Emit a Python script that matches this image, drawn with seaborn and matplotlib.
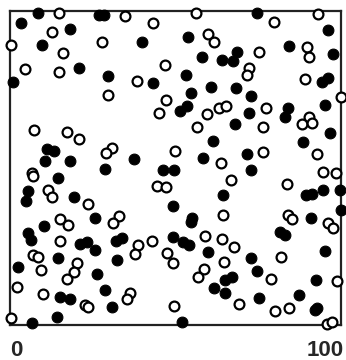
import matplotlib
matplotlib.use("Agg")
import matplotlib.pyplot as plt
import seaborn as sns
import pandas as pd

filled_x = [8.5, 26.9, 28.4, 3.3, 18.0, 9.6, 20.9, 1.0, 29.5, 40.0, 53.9, 58.1, 63.9, 67.3, 53.2, 43.1,
            54.6, 60.7, 51.4, 53.6, 74.7, 96.2, 84.4, 97.7, 68.7, 68.2, 72.7, 94.2, 96.2, 95.2, 72.3, 84.1,
            83.1, 11.1, 13.3, 10.6, 18.1, 28.7, 14.4, 5.5, 4.8, 19.3, 25.7, 61.4, 37.5, 58.2, 46.1, 49.5,
            49.3, 64.4, 54.9, 68.0, 96.7, 88.6, 71.7, 72.7, 89.4, 91.1, 94.5, 99.7, 100.0, 90.8, 10.4, 5.5,
            6.3, 21.1, 23.2, 25.7, 32.0, 33.7, 14.6, 2.5, 26.2, 32.3, 28.7, 15.1, 18.1, 30.8, 14.1, 6.7,
            54.6, 49.2, 52.4, 54.2, 59.7, 61.6, 65.0, 65.0, 51.9, 81.6, 83.1, 95.2, 72.7, 74.7, 67.0, 92.4,
            87.4, 75.3, 92.1, 92.7]
filled_y = [99.3, 98.7, 98.7, 96.3, 94.3, 89.2, 81.8, 77.3, 79.4, 90.0, 91.8, 85.5, 84.4, 84.1, 79.6, 77.0,
            73.8, 75.7, 68.2, 69.8, 99.3, 94.0, 88.9, 86.2, 87.0, 75.4, 72.9, 77.5, 78.6, 70.1, 67.4, 69.0,
            66.3, 56.0, 55.5, 52.2, 52.2, 49.6, 46.9, 42.7, 39.6, 40.9, 34.0, 58.7, 52.8, 53.1, 49.4, 49.4,
            38.0, 41.4, 34.0, 63.9, 61.2, 58.2, 54.4, 49.4, 41.4, 41.7, 43.0, 43.0, 36.6, 34.0, 31.5, 29.4,
            27.1, 25.8, 26.5, 23.9, 26.8, 27.6, 21.2, 18.6, 16.2, 20.7, 11.1, 8.8, 8.2, 5.8, 2.6, 0.5,
            32.9, 27.9, 26.5, 25.5, 23.3, 11.9, 14.2, 10.3, 1.1, 29.7, 28.7, 23.7, 21.2, 17.3, 15.2, 14.3,
            9.6, 8.5, 4.8, 5.4]

open_x = [14.9, 12.6, 0.2, 27.7, 16.1, 4.5, 14.8, 29.7, 34.7, 56.1, 43.3, 59.9, 61.6, 46.8, 38.3, 47.1,
          45.0, 59.6, 63.1, 65.3, 93.0, 79.8, 89.8, 90.4, 75.3, 72.3, 71.7, 89.1, 100.0, 77.3, 90.3, 7.3,
          17.1, 20.9, 30.7, 29.0, 6.6, 6.9, 11.6, 12.6, 23.7, 15.1, 32.9, 56.6, 49.8, 63.7, 44.3, 47.1,
          66.8, 64.4, 76.5, 88.1, 91.1, 76.5, 92.8, 94.5, 98.4, 83.6, 84.1, 85.2, 96.2, 97.5, 17.6, 31.2,
          15.1, 6.9, 8.5, 9.3, 20.3, 19.3, 17.3, 2.2, 10.1, 22.7, 23.7, 0.2, 38.8, 37.8, 42.8, 47.5,
          49.2, 58.9, 64.1, 64.7, 58.7, 56.7, 36.3, 35.3, 49.6, 67.7, 81.8, 78.8, 98.7, 69.2, 80.1, 84.3,
          95.9, 97.2]
open_y = [99.3, 93.2, 89.2, 90.2, 86.5, 81.4, 80.6, 73.2, 98.5, 99.3, 96.1, 92.7, 90.0, 82.8, 77.8, 71.7,
          67.6, 67.1, 69.0, 69.7, 99.0, 96.6, 88.6, 85.3, 86.8, 81.8, 79.6, 78.3, 72.7, 69.2, 66.3, 62.1,
          61.6, 59.1, 56.3, 54.7, 48.5, 47.5, 43.0, 40.9, 38.4, 33.8, 34.7, 63.2, 55.5, 51.7, 44.3, 43.9,
          46.3, 35.0, 63.2, 64.0, 64.2, 55.2, 54.4, 48.8, 48.5, 44.9, 35.0, 33.8, 32.6, 30.8, 31.8, 32.4,
          26.8, 22.3, 21.6, 17.5, 19.7, 17.0, 14.6, 12.0, 9.8, 6.4, 5.6, 2.1, 25.5, 22.5, 26.8, 23.0,
          19.7, 28.4, 27.3, 20.2, 17.8, 15.4, 10.1, 8.2, 6.1, 24.7, 21.8, 14.6, 14.0, 6.7, 4.6, 5.5,
          0.2, 1.1]

axis_labels = ["0", "100"]

df_filled = pd.DataFrame({"x": filled_x, "y": filled_y})
df_open = pd.DataFrame({"x": open_x, "y": open_y})

sns.set_style("white")
fig = plt.figure(figsize=(3.46, 3.60), dpi=100)
ax = fig.add_axes([10/346, 35/360, 331/346, 314/360])

sns.scatterplot(data=df_filled, x="x", y="y", ax=ax, s=60, color="black",
                edgecolor="black", linewidth=0.8, clip_on=False, zorder=3)
sns.scatterplot(data=df_open, x="x", y="y", ax=ax, s=50, facecolor="white",
                edgecolor="black", linewidth=1.6, clip_on=False, zorder=3)

ax.set_xlim(0, 100)
ax.set_ylim(0, 100)
ax.set_xticks([])
ax.set_yticks([])
ax.set_xlabel("")
ax.set_ylabel("")
for sp in ax.spines.values():
    sp.set_visible(True)
    sp.set_linewidth(1.6)
    sp.set_color("#222222")

fig.text(10/346, 4/360, axis_labels[0], ha="left", va="baseline",
         fontsize=16, fontweight="bold", family="Liberation Sans")
fig.text(344/346, 4/360, axis_labels[1], ha="right", va="baseline",
         fontsize=16, fontweight="bold", family="Liberation Sans")

fig.savefig("out.png", dpi=100)
